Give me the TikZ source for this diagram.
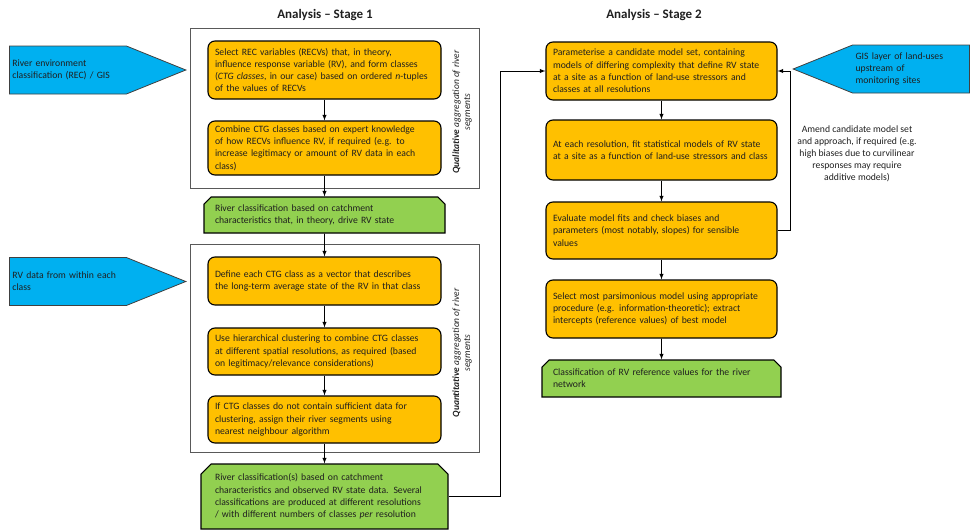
\documentclass[tikz,border=0pt]{standalone}
\usepackage{fontspec}
\setmainfont{Carlito}
\usetikzlibrary{positioning, arrows, calc, shapes.misc, shapes.symbols}

\definecolor{stepOrange}{HTML}{FFC000}
\definecolor{resultGreen}{HTML}{92D050}
\definecolor{inputBlue}{HTML}{00B0F0}

\begin{document}
\begin{tikzpicture}[x=1pt, y=-1pt,
	every node/.style={font=\fontsize{9.7}{12.3}\selectfont, text=black!88},
	stepbox/.style={draw, line width=1.1pt, fill=stepOrange, rounded corners=7pt,
		minimum width=233pt, text width=219pt, inner xsep=7pt, align=left},
	resultbox/.style={draw, line width=1.1pt, fill=resultGreen, chamfered rectangle,
		chamfered rectangle corners={north west, north east}, chamfered rectangle xsep=4pt,
		minimum width=233pt, text width=219pt, inner xsep=7pt, align=left},
	stagetwo/.style={minimum width=231pt, text width=217pt},
	inputbox/.style={draw=black!75, line width=0.8pt, fill=inputBlue, signal,
		signal pointer angle=44, minimum height=48pt, minimum width=176pt,
		text width=111pt, inner xsep=3pt, align=left},
	groupbox/.style={draw=black!65, line width=1pt, minimum width=289pt},
	sidelabel/.style={rotate=90, align=center, font=\fontsize{9.5}{11}\selectfont\itshape},
	stagetitle/.style={font=\fontsize{13}{15}\selectfont\bfseries}]
	
	\useasboundingbox (0,0) rectangle (970,530);
	
	%Titles
	\node (stageOne) at (325,15) [stagetitle]{Analysis -- Stage 1};
	\node (stageTwo) at (654,15) [stagetitle]{Analysis -- Stage 2};
	
	%Aggregation frames
	\node (qualiFrame) at (334.5,108) [groupbox, minimum height=160pt]{};
	\node (quantiFrame) at (334.5,348) [groupbox, minimum height=208pt]{};
	
	\node (qualiLabel) at (462,112) [sidelabel]{\textbf{Qualitative} aggregation of river\\ segments};
	\node (quantiLabel) at (462,353) [sidelabel]{\textbf{Quantitative} aggregation of river\\ segments};
	
	%Stage 1 blocks
	\node (selectRecv) at (324.5,70) [stepbox, minimum height=58pt]{Select REC variables (RECVs) that, in theory,\\ influence response variable (RV), and form classes\\ (\textit{CTG classes}, in our case) based on ordered \textit{n}-tuples\\ of the values of RECVs};
	\node (combineCtg) at (324.5,148) [stepbox, minimum height=54pt]{Combine CTG classes based on expert knowledge\\ of how RECVs influence RV, if required (e.g. to\\ increase legitimacy or amount of RV data in each\\ class)};
	\node (riverClassA) at (324.5,215) [resultbox, minimum height=36pt]{River classification based on catchment\\ characteristics that, in theory, drive RV state};
	\node (defineVector) at (324.5,281) [stepbox, minimum height=48pt]{Define each CTG class as a vector that describes\\ the long-term average state of the RV in that class};
	\node (hierCluster) at (324.5,351.5) [stepbox, minimum height=47pt]{Use hierarchical clustering to combine CTG classes\\ at different spatial resolutions, as required (based\\ on legitimacy/relevance considerations)};
	\node (nearestNb) at (324.5,419.5) [stepbox, minimum height=47pt]{If CTG classes do not contain sufficient data for\\ clustering, assign their river segments using\\ nearest neighbour algorithm};
	\node (riverClassB) at (324.5,496.5) [resultbox, chamfered rectangle xsep=7pt, minimum height=65pt]{River classification(s) based on catchment\\ characteristics and observed RV state data. Several\\ classifications are produced at different resolutions\\ / with different numbers of classes \textit{per} resolution};
	
	%Inputs
	\node (recGis) at (9,70) [inputbox, signal to=east, anchor=west]{River environment\\ classification (REC) / GIS};
	\node (rvData) at (9,281.5) [inputbox, signal to=east, anchor=west]{RV data from within each\\ class};
	\node (gisLayer) at (970,69) [inputbox, signal to=west, anchor=east]{GIS layer of land-uses\\ upstream of\\ monitoring sites};
	
	%Stage 2 blocks
	\node (paramModels) at (661.5,71) [stepbox, stagetwo, minimum height=58pt]{Parameterise a candidate model set, containing\\ models of differing complexity that define RV state\\ at a site as a function of land-use stressors and\\ classes at all resolutions};
	\node (fitModels) at (661.5,150) [stepbox, stagetwo, minimum height=60pt]{At each resolution, fit statistical models of RV state\\ at a site as a function of land-use stressors and class};
	\node (evalModels) at (661.5,230.5) [stepbox, stagetwo, minimum height=57pt]{Evaluate model fits and check biases and\\ parameters (most notably, slopes) for sensible\\ values};
	\node (selectModel) at (661.5,309) [stepbox, stagetwo, minimum height=58pt]{Select most parsimonious model using appropriate\\ procedure (e.g. information-theoretic); extract\\ intercepts (reference values) of best model};
	\node (refValues) at (661.5,378.5) [resultbox, stagetwo, minimum height=37pt]{Classification of RV reference values for the river\\ network};
	
	\node (amendNote) at (857,154) [align=center, font=\fontsize{9.7}{12}\selectfont]{Amend candidate model set\\ and approach, if required (e.g.\\ high biases due to curvilinear\\ responses may require\\ additive models)};
	
	%Links
	\draw[-latex, line width=0.9pt] (selectRecv) -- (combineCtg);
	\draw[-latex, line width=0.9pt] (combineCtg) -- (riverClassA);
	\draw[-latex, line width=0.9pt] (riverClassA) -- (defineVector);
	\draw[-latex, line width=0.9pt] (defineVector) -- (hierCluster);
	\draw[-latex, line width=0.9pt] (hierCluster) -- (nearestNb);
	\draw[-latex, line width=0.9pt] (nearestNb) -- (riverClassB);
	
	\draw[-latex, line width=0.9pt] (riverClassB.east) -- ++(52,0) |- (paramModels.west);
	
	\draw[-latex, line width=0.9pt] (paramModels) -- (fitModels);
	\draw[-latex, line width=0.9pt] (fitModels) -- (evalModels);
	\draw[-latex, line width=0.9pt] (evalModels) -- (selectModel);
	\draw[-latex, line width=0.9pt] (selectModel) -- (refValues);
	
	\draw[-latex, line width=0.9pt] (evalModels.east) -- ++(13,0) |- (paramModels.east);
	
\end{tikzpicture}
\end{document}
